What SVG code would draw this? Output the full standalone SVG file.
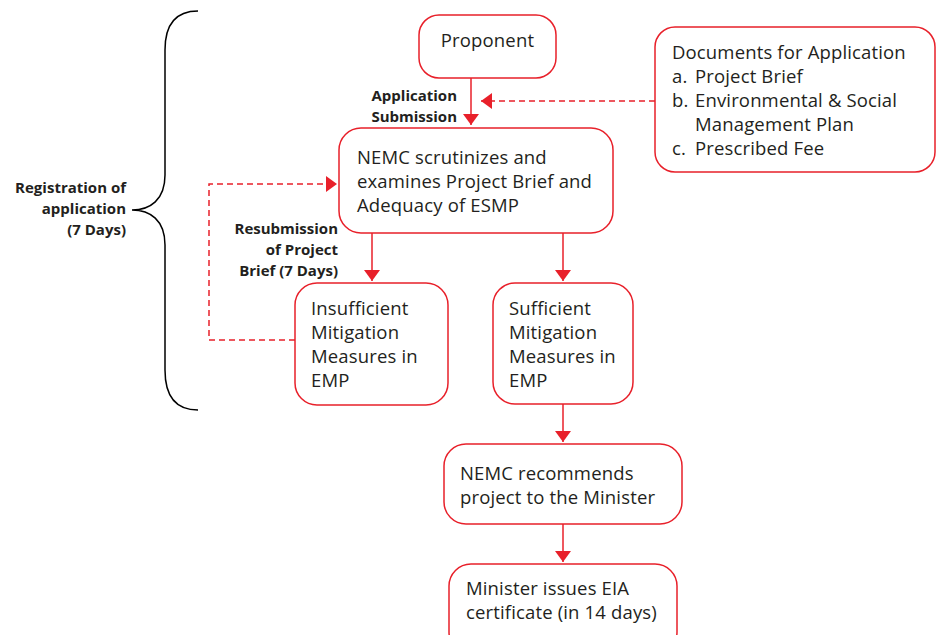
<svg xmlns="http://www.w3.org/2000/svg" width="937" height="635" viewBox="0 0 937 635">
<style>
.box{fill:#fff;stroke:#e8202a;stroke-width:1.5}
.t{font-family:"Open Sans","Noto Sans",sans-serif;font-size:18.5px;letter-spacing:0.15px;fill:#231f20}
.b{font-family:"Open Sans","Noto Sans",sans-serif;font-size:15px;font-weight:bold;fill:#231f20;text-anchor:end}
.c{fill:none;stroke:#e8202a;stroke-width:1.5}
.d{fill:none;stroke:#e8202a;stroke-width:1.5;stroke-dasharray:6,4}
</style>
<defs>
<marker id="ah" markerUnits="userSpaceOnUse" markerWidth="11" markerHeight="16" viewBox="0 0 11 16" refX="11" refY="8" orient="auto">
<path d="M0,0 L11,8 L0,16 z" fill="#e8202a"/>
</marker>
</defs>
<rect width="937" height="635" fill="#fff"/>
<g id="connectors">
<path class="c" d="M471,78 V125" marker-end="url(#ah)"/>
<path class="d" d="M655,101 H481" marker-end="url(#ah)"/>
<path class="c" d="M372,233 V281" marker-end="url(#ah)"/>
<path class="c" d="M563,233 V281" marker-end="url(#ah)"/>
<path class="d" d="M295,340 H209 V184 H337" marker-end="url(#ah)"/>
<path class="c" d="M563,404 V442" marker-end="url(#ah)"/>
<path class="c" d="M563,524 V562" marker-end="url(#ah)"/>
</g>
<g id="brace">
<path d="M198,11 C175,11 165,25 165,50 V175 C165,200 150,210 132,210 C150,210 165,220 165,245 V370 C165,395 175,410 198,410" fill="none" stroke="#000" stroke-width="1.5"/>
<text class="b"><tspan x="126" y="193">Registration of</tspan><tspan x="126" y="214">application</tspan><tspan x="126" y="235">(7 Days)</tspan></text>
</g>
<g id="label-submission">
<text class="b"><tspan x="457" y="101">Application</tspan><tspan x="457" y="122">Submission</tspan></text>
</g>
<g id="label-resubmission">
<text class="b"><tspan x="338" y="234">Resubmission</tspan><tspan x="338" y="255">of Project</tspan><tspan x="338" y="276">Brief (7 Days)</tspan></text>
</g>
<g id="proponent">
<rect class="box" x="419" y="15" width="137" height="63" rx="20"/>
<text class="t" x="487.5" y="47" text-anchor="middle">Proponent</text>
</g>
<g id="documents">
<rect class="box" x="655" y="27" width="280" height="145" rx="20"/>
<text class="t"><tspan x="672" y="59">Documents for Application</tspan><tspan x="672" y="83">a.</tspan><tspan x="695" y="83">Project Brief</tspan><tspan x="672" y="107">b.</tspan><tspan x="695" y="107">Environmental &amp; Social</tspan><tspan x="695" y="131">Management Plan</tspan><tspan x="672" y="155">c.</tspan><tspan x="695" y="155">Prescribed Fee</tspan></text>
</g>
<g id="nemc-scrutinizes">
<rect class="box" x="339" y="128" width="274" height="105" rx="22"/>
<text class="t"><tspan x="357" y="164">NEMC scrutinizes and</tspan><tspan x="357" y="188">examines Project Brief and</tspan><tspan x="357" y="212">Adequacy of ESMP</tspan></text>
</g>
<g id="insufficient">
<rect class="box" x="295" y="283" width="153" height="122" rx="22"/>
<text class="t"><tspan x="311" y="315">Insufficient</tspan><tspan x="311" y="339">Mitigation</tspan><tspan x="311" y="363">Measures in</tspan><tspan x="311" y="387">EMP</tspan></text>
</g>
<g id="sufficient">
<rect class="box" x="493" y="283" width="140" height="121" rx="22"/>
<text class="t"><tspan x="509" y="315">Sufficient</tspan><tspan x="509" y="339">Mitigation</tspan><tspan x="509" y="363">Measures in</tspan><tspan x="509" y="387">EMP</tspan></text>
</g>
<g id="nemc-recommends">
<rect class="box" x="444" y="444" width="238" height="80" rx="22"/>
<text class="t"><tspan x="460" y="480">NEMC recommends</tspan><tspan x="460" y="504">project to the Minister</tspan></text>
</g>
<g id="minister">
<rect class="box" x="449" y="564" width="228" height="90" rx="22"/>
<text class="t"><tspan x="466" y="595">Minister issues EIA</tspan><tspan x="466" y="619">certificate (in 14 days)</tspan></text>
</g>
</svg>
